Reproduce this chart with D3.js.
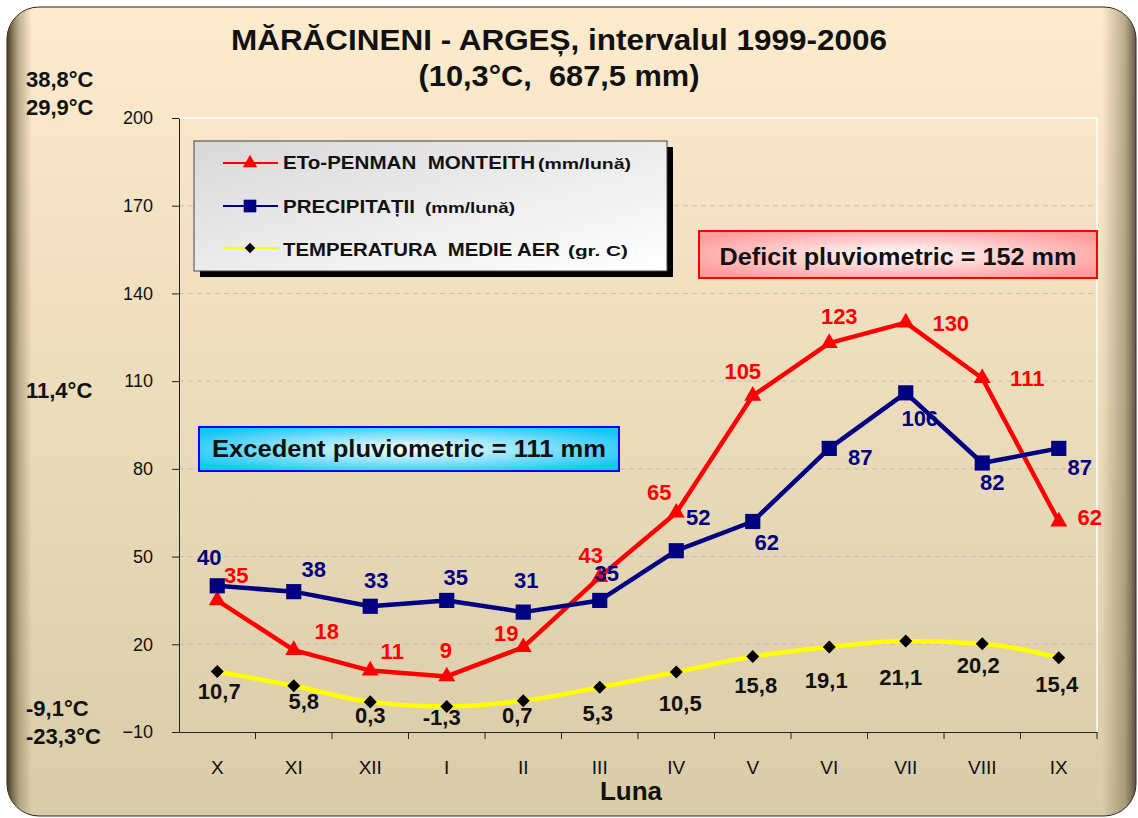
<!DOCTYPE html>
<html>
<head>
<meta charset="utf-8">
<script src="https://cdn.jsdelivr.net/npm/d3@7"></script>
<style>
  body { margin: 0; background: #fff; }
  text { font-family: "Liberation Sans", Arial, sans-serif; }
</style>
</head>
<body>
<div id="chart"></div>
<script>
// Data
const months = ["X", "XI", "XII", "I", "II", "III", "IV", "V", "VI", "VII", "VIII", "IX"];
const eto = [35, 18, 11, 9, 19, 43, 65, 105, 123, 130, 111, 62];
const precip = [40, 38, 33, 35, 31, 35, 52, 62, 87, 106, 82, 87];
const temp = [10.7, 5.8, 0.3, -1.3, 0.7, 5.3, 10.5, 15.8, 19.1, 21.1, 20.2, 15.4];
const yTicks = [-10, 20, 50, 80, 110, 140, 170, 200];
const tempMarks = ["38,8°C", "29,9°C", "11,4°C", "-9,1°C", "-23,3°C"];
const titleLines = ["MĂRĂCINENI - ARGEȘ, intervalul 1999-2006", "(10,3°C,  687,5 mm)"];

// Label placement (offset from the point, in px)
const etoOff = [[19, -25], [33, -19], [22, -20], [-1, -26], [-17, -14], [-9, -22], [-17, -21], [-10, -25], [10, -27], [45, 0], [45, 0], [31, -4]];
const precipOff = [[-8, -29], [20, -23], [6, -26], [9, -23], [3, -32], [7, -27], [22, -34], [14, 21], [31, 9], [14, 25], [10, 19], [21, 19]];
const tempOff = [[2, 20], [10, 15], [0, 13], [-5, 11], [-6, 14], [-2, 26], [4, 31], [3, 29], [-3, 33], [-5, 36], [-4, 21], [-2, 26]];

const width = 1138, height = 818;
const svg = d3.select("#chart").append("svg").attr("width", width).attr("height", height);
const defs = svg.append("defs");

// Gradients
const bg = defs.append("linearGradient").attr("id", "bg").attr("x1", 0).attr("y1", 0).attr("x2", 0).attr("y2", 1);
bg.append("stop").attr("offset", "0%").attr("stop-color", "#fdebcd");
bg.append("stop").attr("offset", "100%").attr("stop-color", "#d9cca8");

const edge = defs.append("linearGradient").attr("id", "edge").attr("x1", 0).attr("y1", 0).attr("x2", 1).attr("y2", 0);
edge.append("stop").attr("offset", "0%").attr("stop-color", "#3a2f1c").attr("stop-opacity", 0.95);
edge.append("stop").attr("offset", "1.2%").attr("stop-color", "#8a7a58").attr("stop-opacity", 0.45);
edge.append("stop").attr("offset", "2.2%").attr("stop-color", "#8a7a58").attr("stop-opacity", 0);
edge.append("stop").attr("offset", "97%").attr("stop-color", "#6a5c40").attr("stop-opacity", 0);
edge.append("stop").attr("offset", "99%").attr("stop-color", "#6a5c40").attr("stop-opacity", 0.45);
edge.append("stop").attr("offset", "100%").attr("stop-color", "#3a3020").attr("stop-opacity", 0.8);

const legGrad = defs.append("linearGradient").attr("id", "leg").attr("x1", 0).attr("y1", 0).attr("x2", 1).attr("y2", 1);
legGrad.append("stop").attr("offset", "0%").attr("stop-color", "#d8d8d8");
legGrad.append("stop").attr("offset", "100%").attr("stop-color", "#ffffff");

function radial(id, edgeColor) {
    const g = defs.append("radialGradient").attr("id", id).attr("cx", "50%").attr("cy", "50%").attr("r", "60%");
    g.append("stop").attr("offset", "0%").attr("stop-color", "#ffffff");
    g.append("stop").attr("offset", "100%").attr("stop-color", edgeColor);
}
radial("redBox", "#ff9c9c");
radial("blueBox", "#18c6f4");

// Card background
svg.append("rect").attr("x", 7).attr("y", 7).attr("width", 1129).attr("height", 809)
    .attr("rx", 32).attr("fill", "url(#bg)").attr("stroke", "#2a2418").attr("stroke-width", 1);
svg.append("rect").attr("x", 7).attr("y", 7).attr("width", 1129).attr("height", 809)
    .attr("rx", 32).attr("fill", "url(#edge)");

// Scales
const x = d3.scaleBand().domain(months).range([179, 1097]);
const cx = (i) => x(months[i]) + x.bandwidth() / 2;
const y = d3.scaleLinear().domain([-10, 200]).range([732, 118]);

// Grid lines
svg.append("g").selectAll("line")
    .data(yTicks.filter((d) => d > -10 && d < 200))
    .join("line")
    .attr("x1", 179).attr("x2", 1097)
    .attr("y1", (d) => y(d)).attr("y2", (d) => y(d))
    .attr("stroke", "#c4c0b8").attr("stroke-width", 1).attr("stroke-dasharray", "5,4");

// Plot area border (white, top & right)
svg.append("line").attr("x1", 179).attr("x2", 1097).attr("y1", y(200)).attr("y2", y(200))
    .attr("stroke", "#ffffff").attr("stroke-width", 1.5);
svg.append("line").attr("x1", 1097).attr("x2", 1097).attr("y1", y(200)).attr("y2", y(-10))
    .attr("stroke", "#ffffff").attr("stroke-width", 1.5);

// Y axis
svg.append("g")
    .attr("transform", "translate(179,0)")
    .call(d3.axisLeft(y).tickValues(yTicks).tickSize(7).tickPadding(19).tickSizeOuter(0))
    .call((g) => g.selectAll("line, path").attr("stroke", "#222"))
    .call((g) => g.selectAll("text").attr("font-size", "18px").attr("fill", "#111")
        .style("font-family", "'Liberation Sans', Arial, sans-serif"));

// X axis
svg.append("g")
    .attr("transform", "translate(0,732)")
    .call(d3.axisBottom(x).tickSize(0).tickPadding(29).tickSizeOuter(0))
    .call((g) => g.select(".domain").attr("stroke", "#222"))
    .call((g) => g.selectAll("text").attr("font-size", "19px").attr("fill", "#111")
        .style("font-family", "'Liberation Sans', Arial, sans-serif"));
svg.append("g").selectAll("line")
    .data(months.slice(1).map((m) => x(m)).concat([x.range()[1]]))
    .join("line")
    .attr("x1", (d) => d).attr("x2", (d) => d)
    .attr("y1", 732).attr("y2", 739)
    .attr("stroke", "#222");

svg.append("text").attr("x", 631).attr("y", 800).attr("text-anchor", "middle")
    .attr("font-size", "26px").attr("font-weight", "bold").attr("fill", "#111").text("Luna");

// Title
svg.append("text").attr("x", 559).attr("y", 50).attr("text-anchor", "middle")
    .attr("font-size", "29px").attr("font-weight", "bold").attr("fill", "#111")
    .attr("textLength", 656).attr("lengthAdjust", "spacingAndGlyphs").text(titleLines[0]);
svg.append("text").attr("x", 559).attr("y", 86).attr("text-anchor", "middle")
    .attr("font-size", "29px").attr("font-weight", "bold").attr("fill", "#111")
    .style("white-space", "pre")
    .attr("textLength", 281).attr("lengthAdjust", "spacingAndGlyphs").text(titleLines[1]);

// Temperature marks on the left
const markY = [87, 115, 398, 716, 744];
svg.append("g").selectAll("text")
    .data(tempMarks)
    .join("text")
    .attr("x", 26).attr("y", (d, i) => markY[i])
    .attr("font-size", "22px").attr("font-weight", "bold").attr("fill", "#111")
    .text((d) => d);

// Series
const series = [
    { key: "temp", values: temp, color: "#ffff00", curve: d3.curveMonotoneX },
    { key: "eto", values: eto, color: "#ff0000", curve: d3.curveLinear },
    { key: "precip", values: precip, color: "#000080", curve: d3.curveLinear }
];

series.forEach((s) => {
    const line = d3.line().x((d, i) => cx(i)).y((d) => y(d)).curve(s.curve);
    svg.append("path").datum(s.values)
        .attr("d", line)
        .attr("fill", "none")
        .attr("stroke", s.color)
        .attr("stroke-width", 4.5)
        .attr("stroke-linejoin", "round");
});

// Markers
svg.append("g").selectAll("path")
    .data(eto).join("path")
    .attr("d", d3.symbol().type(d3.symbolTriangle).size(125))
    .attr("transform", (d, i) => `translate(${cx(i)},${y(d)})`)
    .attr("fill", "#ff0000");
svg.append("g").selectAll("path")
    .data(precip).join("path")
    .attr("d", d3.symbol().type(d3.symbolSquare).size(230))
    .attr("transform", (d, i) => `translate(${cx(i)},${y(d)})`)
    .attr("fill", "#000080");
svg.append("g").selectAll("path")
    .data(temp).join("path")
    .attr("d", d3.symbol().type(d3.symbolSquare).size(85))
    .attr("transform", (d, i) => `translate(${cx(i)},${y(d)}) rotate(45)`)
    .attr("fill", "#000");

// Data labels
function labels(values, offs, color, fmt) {
    svg.append("g").selectAll("text")
        .data(values).join("text")
        .attr("x", (d, i) => cx(i) + offs[i][0])
        .attr("y", (d, i) => y(d) + offs[i][1])
        .attr("dy", "0.36em")
        .attr("text-anchor", "middle")
        .attr("font-size", "22px").attr("font-weight", "bold")
        .attr("fill", color)
        .text(fmt);
}
labels(eto, etoOff, "#ff0000", (d) => d);
labels(precip, precipOff, "#000080", (d) => d);
labels(temp, tempOff, "#111", (d) => String(d).replace(".", ","));

// Legend
const legend = svg.append("g");
legend.append("rect").attr("x", 200).attr("y", 147).attr("width", 473).attr("height", 130).attr("fill", "#000");
legend.append("rect").attr("x", 194).attr("y", 141).attr("width", 473).attr("height", 130)
    .attr("fill", "url(#leg)").attr("stroke", "#444").attr("stroke-width", 1);

const legendRows = [
    { color: "#ff0000", sym: d3.symbolTriangle, size: 90, rot: 0, mark: "#ff0000", main: "ETo-PENMAN  MONTEITH", mainW: 252, unit: "(mm/lună)", unitX: 538, unitW: 93, ly: 163, by: 169 },
    { color: "#000080", sym: d3.symbolSquare, size: 160, rot: 0, mark: "#000080", main: "PRECIPITAȚII", mainW: 132, unit: "(mm/lună)", unitX: 425, unitW: 90, ly: 206, by: 213 },
    { color: "#ffff00", sym: d3.symbolSquare, size: 55, rot: 45, mark: "#000", main: "TEMPERATURA  MEDIE AER", mainW: 277, unit: "(gr. C)", unitX: 568, unitW: 60, ly: 248, by: 256 }
];
legendRows.forEach((r) => {
    legend.append("line").attr("x1", 223).attr("x2", 278).attr("y1", r.ly).attr("y2", r.ly)
        .attr("stroke", r.color).attr("stroke-width", 2);
    legend.append("path").attr("d", d3.symbol().type(r.sym).size(r.size))
        .attr("transform", `translate(250,${r.ly}) rotate(${r.rot})`).attr("fill", r.mark);
    legend.append("text").attr("x", 283).attr("y", r.by)
        .attr("font-size", "18px").attr("font-weight", "bold").attr("fill", "#111")
        .style("white-space", "pre")
        .attr("textLength", r.mainW).attr("lengthAdjust", "spacingAndGlyphs").text(r.main);
    legend.append("text").attr("x", r.unitX).attr("y", r.by)
        .attr("font-size", "15px").attr("font-weight", "bold").attr("fill", "#111")
        .attr("textLength", r.unitW).attr("lengthAdjust", "spacingAndGlyphs").text(r.unit);
});

// Deficit / excedent boxes
function noteBox(x0, y0, w, h, fill, stroke, text, tx, tw, ty) {
    svg.append("rect").attr("x", x0).attr("y", y0).attr("width", w).attr("height", h)
        .attr("fill", fill).attr("stroke", stroke).attr("stroke-width", 2);
    svg.append("text").attr("x", tx).attr("y", ty).attr("text-anchor", "middle")
        .attr("font-size", "23px").attr("font-weight", "bold").attr("fill", "#111")
        .attr("textLength", tw).attr("lengthAdjust", "spacingAndGlyphs").text(text);
}
noteBox(699, 231, 398, 47, "url(#redBox)", "#ff0000", "Deficit pluviometric = 152 mm", 898, 357, 265);
noteBox(199, 427, 420, 44, "url(#blueBox)", "#0000ff", "Excedent pluviometric = 111 mm", 409, 394, 457);
</script>
</body>
</html>
